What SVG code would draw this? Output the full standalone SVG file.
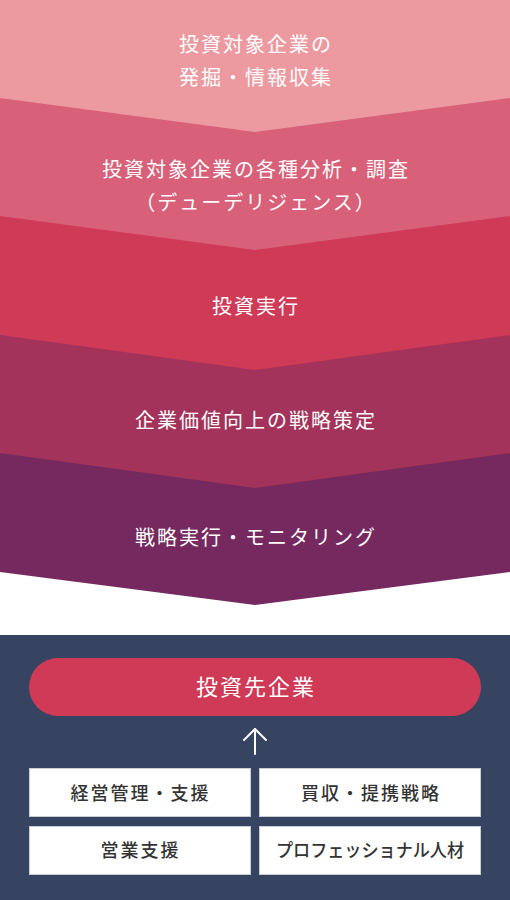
<svg xmlns="http://www.w3.org/2000/svg" width="510" height="900" viewBox="0 0 510 900">
  <style>
    .step { font-family: "Noto Sans CJK JP", "Noto Sans", sans-serif; font-size: 20px; fill: #ffffff; text-anchor: middle; letter-spacing: 2px; }
    .pill { font-family: "Noto Sans CJK JP", "Noto Sans", sans-serif; font-size: 22px; fill: #ffffff; text-anchor: middle; letter-spacing: 2px; }
    .box { fill: #ffffff; stroke: #c9ccd3; stroke-width: 1; }
    .boxtext { font-family: "Noto Sans CJK JP", "Noto Sans", sans-serif; font-size: 18px; font-weight: 500; fill: #333333; text-anchor: middle; letter-spacing: 2px; }
    .arrow { fill: none; stroke: #ffffff; stroke-width: 2; stroke-linecap: round; stroke-linejoin: round; }
  </style>
  <rect x="0" y="0" width="510" height="900" fill="#ffffff"/>

  <g id="step5">
    <polygon points="0,453 510,453 510,572 255,605 0,572" fill="#76295e"/>
    <text class="step" x="256" y="545">戦略実行・モニタリング</text>
  </g>
  <g id="step4">
    <polygon points="0,335 510,335 510,453 255,488 0,453" fill="#a3335a"/>
    <text class="step" x="256" y="428">企業価値向上の戦略策定</text>
  </g>
  <g id="step3">
    <polygon points="0,216 510,216 510,335 255,370 0,335" fill="#cf3a57"/>
    <text class="step" x="256" y="314">投資実行</text>
  </g>
  <g id="step2">
    <polygon points="0,98 510,98 510,216 255,250 0,216" fill="#d86078"/>
    <text class="step" x="256" y="177">投資対象企業の各種分析・調査</text>
    <text class="step" x="256" y="210">（デューデリジェンス）</text>
  </g>
  <g id="step1">
    <polygon points="0,0 510,0 510,98 255,132 0,98" fill="#ec9aa0"/>
    <text class="step" x="256" y="52">投資対象企業の</text>
    <text class="step" x="256" y="85">発掘・情報収集</text>
  </g>

  <g id="support-panel">
    <rect x="0" y="635" width="510" height="265" fill="#374461"/>
  </g>

  <g id="portfolio-company">
    <rect x="29" y="658" width="452" height="58" rx="29" ry="29" fill="#cf3a57"/>
    <text class="pill" x="256" y="695">投資先企業</text>
  </g>

  <g id="connectors">
    <line class="arrow" x1="255" y1="754" x2="255" y2="729"/>
    <polyline class="arrow" points="244,740 255,729 266,740"/>
  </g>

  <g id="management">
    <rect class="box" x="29.5" y="768.5" width="221" height="48"/>
    <text class="boxtext" x="140.5" y="799.5">経営管理・支援</text>
  </g>
  <g id="ma-strategy">
    <rect class="box" x="259.5" y="768.5" width="221" height="48"/>
    <text class="boxtext" x="371" y="799.5">買収・提携戦略</text>
  </g>
  <g id="sales-support">
    <rect class="box" x="29.5" y="826.5" width="221" height="48"/>
    <text class="boxtext" x="140.5" y="856.5">営業支援</text>
  </g>
  <g id="professionals">
    <rect class="box" x="259.5" y="826.5" width="221" height="48"/>
    <text class="boxtext" x="370" y="856.5" textLength="188" lengthAdjust="spacingAndGlyphs" style="letter-spacing:0">プロフェッショナル人材</text>
  </g>
</svg>
